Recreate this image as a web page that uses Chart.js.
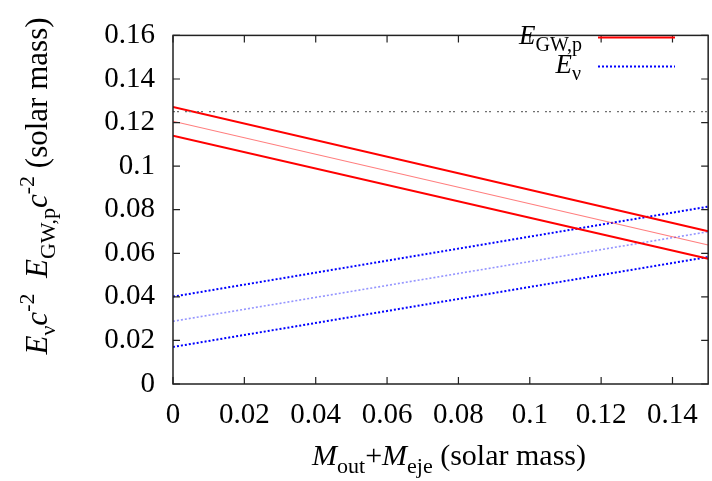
<!DOCTYPE html>
<html><head><meta charset="utf-8">
<script src="https://cdn.jsdelivr.net/npm/chart.js@4.4.0/dist/chart.umd.min.js"></script>
<style>html,body{margin:0;padding:0;background:#fff}#wrap{width:712px;height:481px}</style>
</head><body><div id="wrap"><canvas id="c" width="712" height="481"></canvas></div>
<script>
// x positions of line end points (solar mass)
const xEnds = [0, 0.15];
// E_GW,p c^-2 curves (upper, central, lower)
const gwUpper = [0.1271, 0.0701];
const gwMid   = [0.1206, 0.0638];
const gwLower = [0.1139, 0.0575];
// E_nu c^-2 curves (upper, central, lower)
const nuUpper = [0.0401, 0.0814];
const nuMid   = [0.0288, 0.0699];
const nuLower = [0.0170, 0.0583];
// horizontal reference level
const refLevel = [0.125, 0.125];
// ticks
const xTicks = [0, 0.02, 0.04, 0.06, 0.08, 0.10, 0.12, 0.14];
const xTickLabels = ['0','0.02','0.04','0.06','0.08','0.1','0.12','0.14'];
const yTicks = [0, 0.02, 0.04, 0.06, 0.08, 0.10, 0.12, 0.14, 0.16];
const yTickLabels = ['0','0.02','0.04','0.06','0.08','0.1','0.12','0.14','0.16'];

const SERIF = '"Liberation Serif", serif';
const pts = ys => xEnds.map((x, i) => ({x: x, y: ys[i]}));

function drawRich(ctx, segs, x, y, align, base, subScale) {
  const sc = subScale || 0.72;
  const fontOf = s => (s.it ? 'italic ' : 'normal ') + Math.round(s.sub || s.sup ? base * sc : base) + 'px ' + SERIF;
  let w = 0;
  segs.forEach(s => { ctx.font = fontOf(s); s.w = ctx.measureText(s.t).width; w += s.w; });
  let cx = align === 'center' ? x - w / 2 : (align === 'right' ? x - w : x);
  ctx.textAlign = 'left'; ctx.textBaseline = 'alphabetic'; ctx.fillStyle = '#000';
  segs.forEach(s => {
    ctx.font = fontOf(s);
    const dy = s.sub ? base * 0.26 : (s.sup ? -base * 0.42 : 0);
    ctx.fillText(s.t, cx, y + dy);
    cx += s.w;
  });
}

const framePlugin = {
  id: 'frame',
  afterDraw(chart) {
    const ctx = chart.ctx, a = chart.chartArea;
    const xs = chart.scales.x, ys = chart.scales.y;
    ctx.save();
    ctx.strokeStyle = '#222'; ctx.lineWidth = 1.5;
    ctx.strokeRect(a.left, a.top, a.right - a.left, a.bottom - a.top);
    ctx.lineWidth = 1.2;
    const tl = 7;
    ctx.beginPath();
    xTicks.forEach(v => {
      const px = xs.getPixelForValue(v);
      ctx.moveTo(px, a.bottom); ctx.lineTo(px, a.bottom - tl);
      ctx.moveTo(px, a.top); ctx.lineTo(px, a.top + tl);
    });
    yTicks.forEach(v => {
      const py = ys.getPixelForValue(v);
      ctx.moveTo(a.left, py); ctx.lineTo(a.left + tl, py);
      ctx.moveTo(a.right, py); ctx.lineTo(a.right - tl, py);
    });
    ctx.stroke();

    // legend
    drawRich(ctx, [{t:'E', it:1}, {t:'GW,p', sub:1}], 582, 44, 'right', 27, 0.75);
    drawRich(ctx, [{t:'E', it:1}, {t:'ν', sub:1}], 581, 73, 'right', 27, 0.75);
    ctx.strokeStyle = '#ff0000'; ctx.lineWidth = 2; ctx.setLineDash([]);
    ctx.beginPath(); ctx.moveTo(598, 37.5); ctx.lineTo(675, 37.5); ctx.stroke();
    ctx.strokeStyle = '#0000ff'; ctx.setLineDash([2, 2]);
    ctx.beginPath(); ctx.moveTo(598, 66.5); ctx.lineTo(675, 66.5); ctx.stroke();
    ctx.setLineDash([]);

    // axis titles
    drawRich(ctx, [{t:'M', it:1}, {t:'out', sub:1}, {t:'+'}, {t:'M', it:1}, {t:'eje', sub:1}, {t:' (solar mass)'}], 449, 465, 'center', 30);
    ctx.translate(47, 186);
    ctx.rotate(-Math.PI / 2);
    drawRich(ctx, [{t:'E', it:1}, {t:'ν', sub:1}, {t:'c', it:1}, {t:'-2', sup:1}, {t:'  '},
                   {t:'E', it:1}, {t:'GW,p', sub:1}, {t:'c', it:1}, {t:'-2', sup:1}, {t:' (solar mass)'}], 0, 0, 'center', 31);
    ctx.restore();
  }
};

const line = (data, color, width, dash) => ({
  data: pts(data), borderColor: color, borderWidth: width, borderDash: dash || [],
  pointRadius: 0, fill: false, tension: 0
});

new Chart(document.getElementById('c'), {
  type: 'line',
  data: {
    datasets: [
      line(refLevel, '#707070', 1.2, [2, 2, 2, 6]),
      line(gwUpper, '#ff0000', 2),
      line(gwMid, 'rgba(255,40,40,0.6)', 1.2),
      line(gwLower, '#ff0000', 2),
      line(nuUpper, '#0000ff', 2, [2, 2]),
      line(nuMid, 'rgba(60,60,255,0.55)', 1.6, [2, 2]),
      line(nuLower, '#0000ff', 2, [2, 2])
    ]
  },
  options: {
    responsive: false, animation: false, devicePixelRatio: 1,
    layout: {padding: {top: 16, right: 2, left: 0, bottom: 0}},
    plugins: {legend: {display: false}, tooltip: {enabled: false}},
    scales: {
      x: {
        type: 'linear', min: 0, max: 0.15,
        grid: {display: false, drawTicks: false}, border: {display: false},
        afterBuildTicks: s => { s.ticks = xTicks.map(v => ({value: v})); },
        afterFit: s => { s.height = 97; },
        ticks: {color: '#000', font: {family: SERIF, size: 29}, padding: 14, maxRotation: 0,
                callback: (v, i) => xTickLabels[i]}
      },
      y: {
        type: 'linear', min: 0, max: 0.16,
        grid: {display: false, drawTicks: false}, border: {display: false},
        afterBuildTicks: s => { s.ticks = yTicks.map(v => ({value: v})); },
        afterFit: s => { s.width = 173; },
        ticks: {color: '#000', font: {family: SERIF, size: 29}, padding: 18,
                callback: (v, i) => yTickLabels[i]}
      }
    }
  },
  plugins: [framePlugin]
});
</script></body></html>
